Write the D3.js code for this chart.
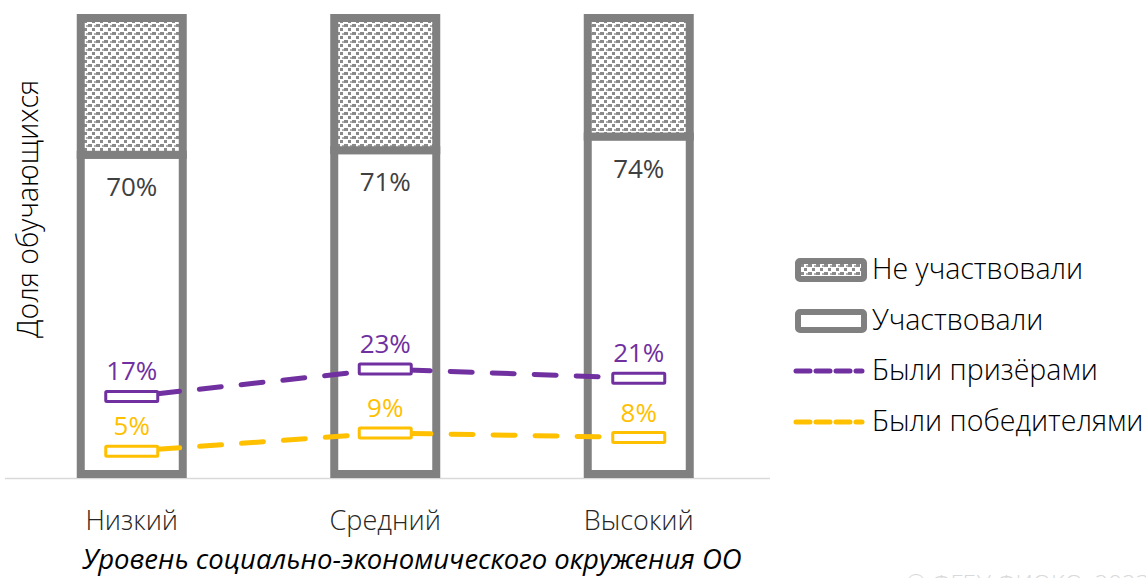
<!DOCTYPE html>
<html><head><meta charset="utf-8">
<script src="https://cdn.jsdelivr.net/npm/d3@7/dist/d3.min.js"></script>
<style>body{margin:0;background:#fff;overflow:hidden}svg{display:block}text{font-family:"Open Sans",sans-serif;font-weight:300}text.reg{font-weight:400}</style>
</head><body>
<svg id="c" width="1146" height="578"></svg>
<script>
const categories = ["Низкий", "Средний", "Высокий"];
const participated = [70, 71, 74];
const notParticipated = [30, 29, 26];
const prizewinners = [17, 23, 21];
const winners = [5, 9, 8];
const legendLabels = ["Не участвовали", "Участвовали", "Были призёрами", "Были победителями"];

const svg = d3.select("#c");
const gray = "#808080", purple = "#7030A0", gold = "#FFC000", txt = "#404040";

const defs = svg.append("defs");
const pat = defs.append("pattern").attr("id","dots").attr("patternUnits","userSpaceOnUse")
  .attr("width",8).attr("height",8);
pat.append("rect").attr("width",8).attr("height",8).attr("fill","#fff");
pat.append("rect").attr("x",0).attr("y",0).attr("width",4).attr("height",3).attr("fill","#8a8a8a");
pat.append("rect").attr("x",4).attr("y",4).attr("width",3).attr("height",3).attr("fill","#8a8a8a");
pat.append("rect").attr("x",6).attr("y",1).attr("width",2).attr("height",2).attr("fill","#b0b0b0");

const x = d3.scaleBand().domain(categories).range([5, 765.5]).paddingInner(0.6).paddingOuter(0.3);
const y = d3.scaleLinear().domain([0, 100]).range([474, 18]);

svg.append("line").attr("x1",5).attr("x2",770).attr("y1",478.5).attr("y2",478.5)
  .attr("stroke","#d9d9d9").attr("stroke-width",1.5);

const bw = 102;
const cx = d => x(d) + x.bandwidth()/2;

categories.forEach((c,i)=>{
  svg.append("rect").attr("x",cx(c)-bw/2).attr("width",bw)
    .attr("y",y(participated[i])).attr("height",y(0)-y(participated[i]))
    .attr("fill","#fff").attr("stroke",gray).attr("stroke-width",8);
  svg.append("rect").attr("x",cx(c)-bw/2).attr("width",bw)
    .attr("y",y(participated[i]+notParticipated[i])).attr("height",y(participated[i])-y(participated[i]+notParticipated[i]))
    .attr("fill","url(#dots)").attr("stroke",gray).attr("stroke-width",8);
  svg.append("text").attr("class","reg").attr("x",cx(c)).attr("y",y(participated[i])+41)
    .attr("text-anchor","middle").attr("font-size",26).attr("fill",txt).text(participated[i]+"%");
});

function series(vals, color){
  const line = d3.line().x((d,i)=>cx(categories[i])).y(d=>y(d));
  svg.append("path").attr("d",line(vals)).attr("fill","none").attr("stroke",color)
    .attr("stroke-width",5).attr("stroke-dasharray","22,20").attr("stroke-dashoffset",-26).attr("stroke-linecap","round");
  vals.forEach((v,i)=>{
    svg.append("rect").attr("x",cx(categories[i])-26).attr("y",y(v)-5).attr("width",52).attr("height",10)
      .attr("fill","#fff").attr("stroke",color).attr("stroke-width",3).attr("rx",1);
    svg.append("text").attr("class","reg").attr("x",cx(categories[i])).attr("y",y(v)-16)
      .attr("text-anchor","middle").attr("font-size",26).attr("fill",color).text(v+"%");
  });
}
series(prizewinners, purple);
series(winners, gold);

categories.forEach(c=>{
  svg.append("text").attr("x",cx(c)).attr("y",530).attr("text-anchor","middle")
    .attr("font-size",27).attr("fill","#262626").text(c);
});
svg.append("text").attr("class","reg").attr("x",412).attr("y",569).attr("text-anchor","middle")
  .attr("font-size",27.5).attr("font-style","italic").attr("fill","#000")
  .text("Уровень социально-экономического окружения ОО");
svg.append("text").attr("transform","translate(38,209) rotate(-90)").attr("text-anchor","middle")
  .attr("font-size",28.5).attr("fill","#000").text("Доля обучающихся");

const ly = [270, 321, 371, 422];
const lg = svg.append("g");
legendLabels.forEach((l,i)=>{
  if(i<2){
    lg.append("rect").attr("x",798).attr("y",ly[i]-9).attr("width",66).attr("height",18).attr("rx",2)
      .attr("fill", i===0 ? "url(#dots)" : "#fff").attr("stroke",gray).attr("stroke-width",6);
  } else {
    const col = i===2 ? purple : gold;
    lg.append("line").attr("x1",796).attr("x2",862).attr("y1",ly[i]).attr("y2",ly[i])
      .attr("stroke",col).attr("stroke-width",5).attr("stroke-linecap","round").attr("stroke-dasharray","14,6");
  }
  lg.append("text").attr("x",872).attr("y",ly[i]+9).attr("font-size",28.5).attr("fill","#000").text(l);
});

svg.append("text").attr("x",906).attr("y",592).attr("font-size",24).attr("fill","#d9d9d9").text("© ФГБУ ФИОКО, 2023");
</script>
</body></html>
